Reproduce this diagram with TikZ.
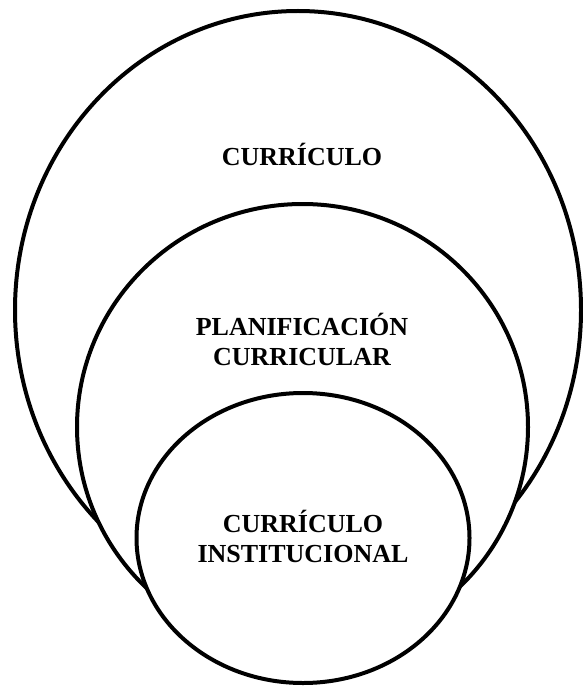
\documentclass[tikz,border=0pt]{standalone}
\usepackage{fontspec}
\setmainfont{Liberation Serif}
\begin{document}
\begin{tikzpicture}[x=1pt,y=-1pt,
  ring/.style={draw=black,fill=white,line width=4pt},
  lbl/.style={font=\bfseries\fontsize{26}{30}\selectfont,align=center,inner sep=0pt}]
\useasboundingbox (0,0) rectangle (582,687);
\fill[white] (0,0) rectangle (582,687);
\path[ring] (298,310) ellipse [x radius=283, y radius=299];
\path[ring] (302.5,427) ellipse [x radius=225.5, y radius=223];
\path[ring] (303,538) ellipse [x radius=166.5, y radius=145];
\node[lbl,anchor=base] (c1) at (302,165) {CURRÍCULO};
\node[lbl,anchor=base] (c2) at (302,365) {PLANIFICACIÓN\\CURRICULAR};
\node[lbl,anchor=base] (c3) at (303,562) {CURRÍCULO\\INSTITUCIONAL};
\end{tikzpicture}
\end{document}
